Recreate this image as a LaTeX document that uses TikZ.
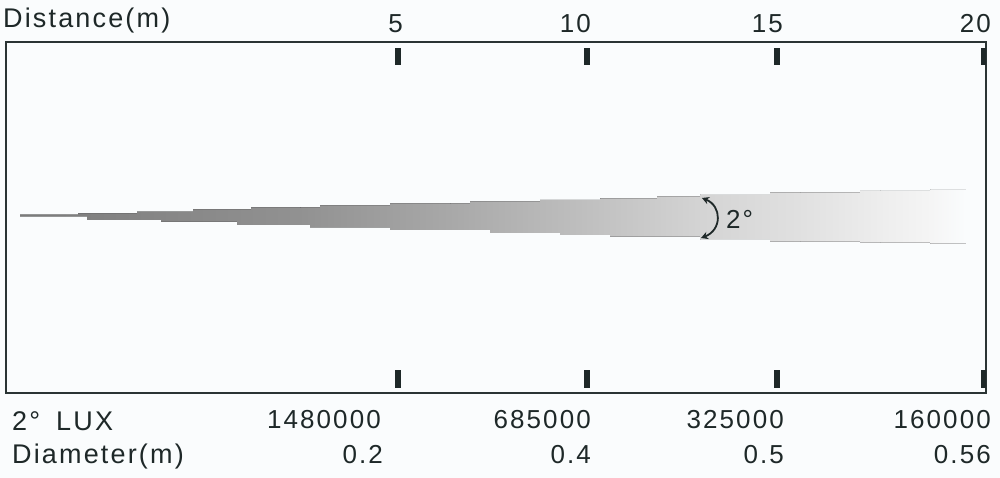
\documentclass[tikz,border=0pt]{standalone}
\usepackage{fontspec}
\setmainfont{Liberation Sans}[LetterSpace=8]
\usetikzlibrary{arrows.meta}
\definecolor{bg}{HTML}{FAFCFD}
\definecolor{ink}{HTML}{1E2828}
\definecolor{framec}{HTML}{2A3434}
\tikzset{
  lbl/.style={font=\fontsize{26}{30}\selectfont, text=ink, inner sep=0pt},
  biglbl/.style={font=\fontsize{27}{30}\selectfont, text=ink, inner sep=0pt},
  tickmark/.style={fill=ink},
  anglearrow/.style={draw=ink, line width=1.8pt, {Stealth[length=7pt,width=7.5pt]}-{Stealth[length=7pt,width=7.5pt]}},
}
\begin{document}
\begin{tikzpicture}[x=1pt,y=-1pt]
\useasboundingbox[fill=bg] (0,0) rectangle (1000,478);

% beam
\begin{scope}
\clip (20,214.7) -| (78,213.3) -| (137,211.7) -| (193,209.3) -| (251,207.5)
  -| (320,205.5) -| (390,203.5) -| (470,201.5) -| (540,199.8) -| (600,198.3)
  -| (657,196.5) -| (700,195) -| (770,192.5) -| (860,191) -| (930,190)
  -- (975,190) -- (975,243.5) -- (930,243.5) |- (860,242.5) |- (770,241.5)
  |- (700,239) |- (610,236.7) |- (560,235) |- (490,233) |- (390,230)
  |- (310,227.5) |- (237,225) |- (161,221.7) |- (87,220) |- (20,216.3) -- cycle;
\foreach \xa/\xb/\ca/\cb in {15/300.5/48/57, 300/450.5/57/66, 450/600.5/66/76, 600/700.5/76/83, 700/800.5/83/88, 800/880.5/88/93, 880/930.5/93/96}
  \fill[left color=white!\ca!black, right color=white!\cb!black] (\xa,180) rectangle (\xb,250);
\fill[left color=white!96!black, right color=bg] (930,180) rectangle (966,250);
\fill[bg] (965.5,180) rectangle (980,250);
\end{scope}

% frame
\draw[framec, line width=2pt] (6,42) rectangle (986,393);

% ticks
\foreach \x in {398,587,777} {
  \fill[tickmark] (\x-3,48) rectangle (\x+3,65);
  \fill[tickmark] (\x-3,370) rectangle (\x+3,388);
}
\fill[tickmark] (981,48) rectangle (986,65);
\fill[tickmark] (981,370) rectangle (986,388);

% top labels
\node[biglbl, anchor=base west] (dist) at (3,28) {Distance(m)};
\node[lbl, anchor=base east] (d5) at (403,32.5) {5};
\node[lbl, anchor=base east] (d10) at (591,32.5) {10};
\node[lbl, anchor=base east] (d15) at (783,32.5) {15};
\node[lbl, anchor=base east] (d20) at (991,32.5) {20};

% bottom labels
\node[biglbl, anchor=base west] (luxdeg) at (12,430) {2°};
\node[biglbl, anchor=base west] (lux) at (56,430) {LUX};
\node[biglbl, anchor=base west] (dia) at (12,463) {Diameter(m)};
\node[lbl, anchor=base east] (l5) at (381,428.5) {1480000};
\node[lbl, anchor=base east] (l10) at (591,428.5) {685000};
\node[lbl, anchor=base east] (l15) at (784,428.5) {325000};
\node[lbl, anchor=base east] (l20) at (991,428.5) {160000};
\node[lbl, anchor=base east] (m5) at (383,463) {0.2};
\node[lbl, anchor=base east] (m10) at (591,463) {0.4};
\node[lbl, anchor=base east] (m15) at (784,463) {0.5};
\node[lbl, anchor=base east] (m20) at (991,463) {0.56};

% angle mark
\coordinate (aT) at (702,198);
\coordinate (aB) at (701,238);
\draw[anglearrow] (aT) .. controls (722,206) and (722,230) .. (aB);
\node[lbl, anchor=base west] (ang) at (726,228.5) {2°};
\end{tikzpicture}
\end{document}
